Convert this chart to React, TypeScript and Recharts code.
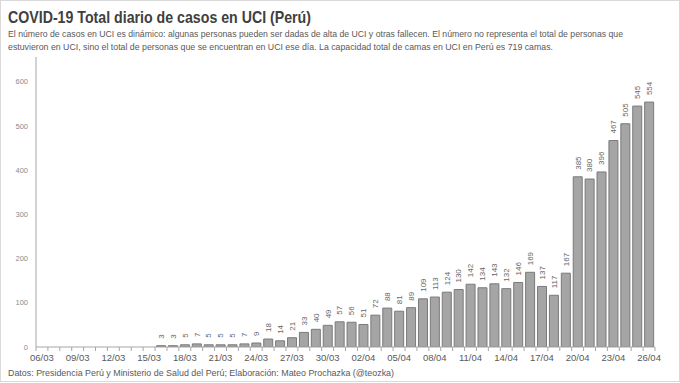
import React from 'react';
import { BarChart, Bar, XAxis, YAxis, LabelList } from 'recharts';

const dates = [
  '06/03', '07/03', '08/03', '09/03', '10/03', '11/03', '12/03', '13/03', '14/03', '15/03',
  '16/03', '17/03', '18/03', '19/03', '20/03', '21/03', '22/03', '23/03', '24/03', '25/03',
  '26/03', '27/03', '28/03', '29/03', '30/03', '31/03', '01/04', '02/04', '03/04', '04/04',
  '05/04', '06/04', '07/04', '08/04', '09/04', '10/04', '11/04', '12/04', '13/04', '14/04',
  '15/04', '16/04', '17/04', '18/04', '19/04', '20/04', '21/04', '22/04', '23/04', '24/04',
  '25/04', '26/04',
];

const icuCases: (number | null)[] = [
  null, null, null, null, null, null, null, null, null, null,
  3, 3, 5, 7, 5, 5, 5, 7, 9, 18,
  14, 21, 33, 40, 49, 57, 56, 51, 72, 88,
  81, 89, 109, 113, 124, 130, 142, 134, 143, 132,
  146, 169, 137, 117, 167, 385, 380, 396, 467, 505,
  545, 554,
];

const yTicks = [0, 100, 200, 300, 400, 500, 600];

const titleText = 'COVID-19 Total diario de casos en UCI (Perú)';
const subtitleLines = [
  'El número de casos en UCI es dinámico: algunas personas pueden ser dadas de alta de UCI y otras fallecen. El número no representa el total de personas que',
  'estuvieron en UCI, sino el total de personas que se encuentran en UCI ese día. La capacidad total de camas en UCI en Perú es 719 camas.',
];
const footerText = 'Datos: Presidencia Perú y Ministerio de Salud del Perú; Elaboración: Mateo Prochazka (@teozka)';

const data = dates.map((d, i) => ({ date: d, value: icuCases[i] }));

const W = 680;
const H = 383;
const PLOT_LEFT = 36;
const PLOT_RIGHT = 655;
const BAND = (PLOT_RIGHT - PLOT_LEFT) / dates.length;
const FONT = "'Liberation Sans', Arial, sans-serif";
const AXIS_COLOR = '#a6a6a6';

function XTick(props: any) {
  const { x, y, payload } = props;
  const i = payload.index;
  const left = x - BAND / 2;
  return (
    <g>
      <line x1={left} x2={left} y1={y} y2={y + 4} stroke={AXIS_COLOR} />
      {i === dates.length - 1 && (
        <line x1={x + BAND / 2} x2={x + BAND / 2} y1={y} y2={y + 4} stroke={AXIS_COLOR} />
      )}
      {i % 3 === 0 && (
        <text x={x} y={y + 14} textAnchor="middle" fontSize={9.5} fill="#595959" fontFamily={FONT}>
          {payload.value}
        </text>
      )}
    </g>
  );
}

function BarLabel(props: any) {
  const { x, y, width, value } = props;
  if (value == null) return null;
  const cx = Number(x) + Number(width) / 2;
  const ty = Number(y) - 7;
  return (
    <text
      x={cx}
      y={ty}
      transform={`rotate(-90 ${cx} ${ty})`}
      textAnchor="start"
      dy="0.35em"
      fontSize={8}
      fill="#666666"
      fontFamily={FONT}
    >
      {value}
    </text>
  );
}

export default function App() {
  return (
    <div
      style={{
        position: 'absolute',
        left: 0,
        top: 0,
        width: W,
        height: 382,
        boxSizing: 'border-box',
        border: '1px solid #d9d9d9',
        background: '#ffffff',
      }}
    >
      <div style={{ position: 'absolute', left: -1, top: -1 }}>
        <BarChart
          width={W}
          height={H}
          data={data}
          margin={{ top: 57, right: W - PLOT_RIGHT, bottom: 16, left: 6 }}
          barCategoryGap="13%"
        >
          <XAxis
            dataKey="date"
            interval={0}
            tickLine={false}
            tickSize={0}
            tickMargin={0}
            height={20}
            axisLine={{ stroke: AXIS_COLOR }}
            tick={<XTick />}
          />
          <XAxis
            xAxisId="top"
            orientation="top"
            dataKey="date"
            height={0}
            tick={false}
            tickLine={false}
            axisLine={{ stroke: AXIS_COLOR }}
          />
          <YAxis
            width={30}
            domain={[0, 656]}
            ticks={yTicks}
            allowDataOverflow
            tickLine={false}
            axisLine={{ stroke: AXIS_COLOR }}
            tick={{ fontSize: 7.5, fill: '#8c8c8c', fontFamily: FONT }}
          />
          <YAxis
            yAxisId="right"
            orientation="right"
            width={0}
            tick={false}
            tickLine={false}
            axisLine={{ stroke: AXIS_COLOR }}
          />
          <Bar dataKey="value" fill="#a5a5a5" stroke="#7a7a7a" strokeWidth={1} isAnimationActive={false}>
            <LabelList dataKey="value" content={<BarLabel />} />
          </Bar>
        </BarChart>
      </div>
      <svg
        width={W}
        height={H}
        style={{ position: 'absolute', left: -1, top: -1, pointerEvents: 'none' }}
      >
        <text x={8} y={23} fontSize={17} fontWeight="bold" fill="#404040" fontFamily={FONT} textLength={303} lengthAdjust="spacingAndGlyphs">
          {titleText}
        </text>
        <text x={8} y={37} fontSize={9} fill="#595959" fontFamily={FONT} textLength={615} lengthAdjust="spacingAndGlyphs">
          {subtitleLines[0]}
        </text>
        <text x={8} y={50} fontSize={9} fill="#595959" fontFamily={FONT} textLength={545} lengthAdjust="spacingAndGlyphs">
          {subtitleLines[1]}
        </text>
        <text x={8} y={376} fontSize={9.5} fill="#595959" fontFamily={FONT} textLength={386} lengthAdjust="spacingAndGlyphs">
          {footerText}
        </text>
      </svg>
    </div>
  );
}
